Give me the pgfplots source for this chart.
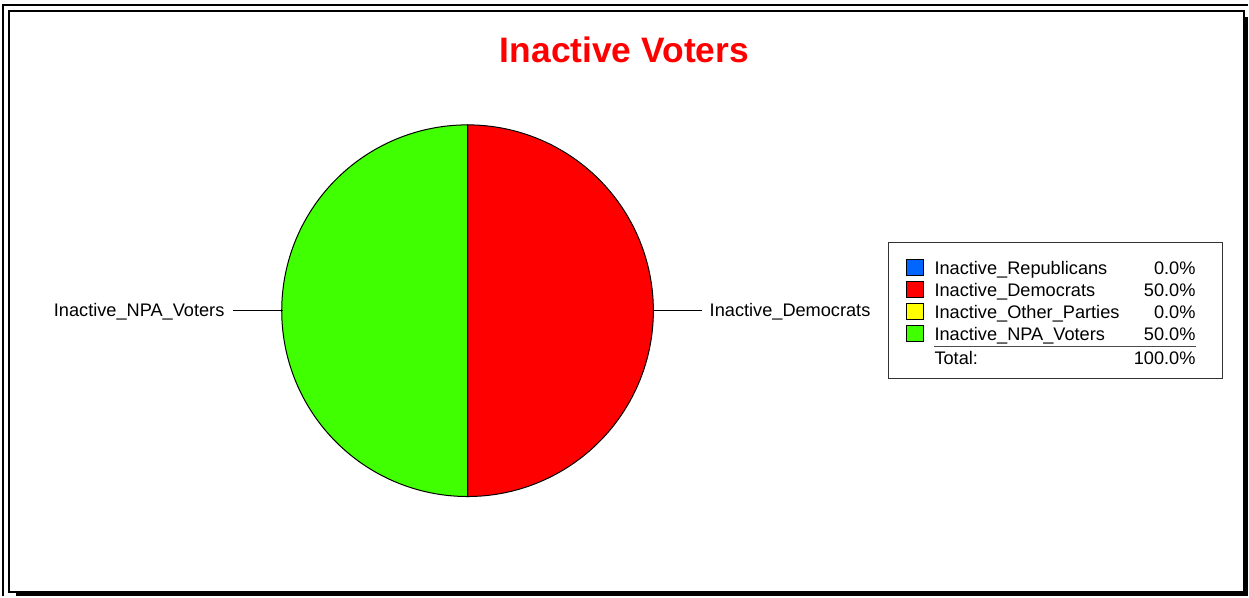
\documentclass[border=0pt]{standalone}
\usepackage{pgfplots}
\usepackage{pgfplotstable}
\pgfplotsset{compat=1.18}
\usepackage{fontspec}
\setmainfont{Liberation Sans}
\definecolor{repblue}{HTML}{0066FF}
\definecolor{demred}{HTML}{FF0000}
\definecolor{othyellow}{HTML}{FFFF00}
\definecolor{npagreen}{HTML}{40FF00}
\pgfplotstableread{
party value
Inactive_Republicans 0
Inactive_Democrats 50
Inactive_Other_Parties 0
Inactive_NPA_Voters 50
}\votes
\pgfplotstablegetelem{1}{value}\of\votes \pgfmathsetmacro{\dem}{\pgfplotsretval}
\pgfplotstablegetelem{3}{value}\of\votes \pgfmathsetmacro{\npa}{\pgfplotsretval}
\pgfmathsetmacro{\demA}{90-3.6*\dem}
\pgfmathsetmacro{\npaA}{\demA-3.6*\npa}
\newcommand{\lf}{\fontsize{9.1}{10}\selectfont}
\begin{document}
\begin{tikzpicture}
\begin{axis}[
  width=624.5pt, height=298.5pt, scale only axis,
  xmin=0, xmax=1249, ymin=0, ymax=597,
  hide axis, clip=false,
]
% keep the full canvas
\path (axis cs:0,0) rectangle (axis cs:1249,597);
% frame
\draw[line width=1.2pt] (axis cs:3,0) -- (axis cs:3,592) -- (axis cs:1249,592);
\draw[line width=1pt] (axis cs:9,4) rectangle (axis cs:1245,586);
\draw[line width=1.5pt] (axis cs:1247.5,580) -- (axis cs:1247.5,1.5) -- (axis cs:16,1.5);
% title
\node[anchor=base, text=red, font=\bfseries\fontsize{17.7}{20}\selectfont] at (axis cs:625,534) {Inactive Voters};
% pie slices (start at 12 o'clock, clockwise; 3.6 deg per percent)
\addplot[fill=demred, draw=black, line width=0.5pt, domain=\demA:90, samples=181]
  ({468+186*cos(x)},{286+186*sin(x)}) -- (axis cs:468,286) -- cycle;
\addplot[fill=npagreen, draw=black, line width=0.5pt, domain=\npaA:\demA, samples=181]
  ({468+186*cos(x)},{286+186*sin(x)}) -- (axis cs:468,286) -- cycle;
% slice labels
\draw[line width=0.5pt] (axis cs:654,286) -- (axis cs:703,286);
\draw[line width=0.5pt] (axis cs:233,286) -- (axis cs:283,286);
\node[anchor=base west, inner sep=0pt, font=\lf] at (axis cs:710,280) {Inactive\_Democrats};
\node[anchor=base east, inner sep=0pt, font=\lf] at (axis cs:225,280) {Inactive\_NPA\_Voters};
% legend
\draw[line width=0.5pt, draw=black!80] (axis cs:889,354) rectangle (axis cs:1224,218);
\draw[fill=repblue, draw=black, line width=0.5pt] (axis cs:907,321) rectangle (axis cs:924,337);
\draw[fill=demred, draw=black, line width=0.5pt] (axis cs:907,299) rectangle (axis cs:924,315);
\draw[fill=othyellow, draw=black, line width=0.5pt] (axis cs:907,277) rectangle (axis cs:924,293);
\draw[fill=npagreen, draw=black, line width=0.5pt] (axis cs:907,255) rectangle (axis cs:924,271);
\node[anchor=base west, inner sep=0pt, font=\lf] at (axis cs:935,322) {Inactive\_Republicans};
\node[anchor=base west, inner sep=0pt, font=\lf] at (axis cs:935,300) {Inactive\_Democrats};
\node[anchor=base west, inner sep=0pt, font=\lf] at (axis cs:935,278) {Inactive\_Other\_Parties};
\node[anchor=base west, inner sep=0pt, font=\lf] at (axis cs:935,256) {Inactive\_NPA\_Voters};
\node[anchor=base east, inner sep=0pt, font=\lf] at (axis cs:1197,322) {0.0\%};
\node[anchor=base east, inner sep=0pt, font=\lf] at (axis cs:1197,300) {50.0\%};
\node[anchor=base east, inner sep=0pt, font=\lf] at (axis cs:1197,278) {0.0\%};
\node[anchor=base east, inner sep=0pt, font=\lf] at (axis cs:1197,256) {50.0\%};
\draw[line width=0.5pt, draw=black!70] (axis cs:935,250) -- (axis cs:1197,250);
\node[anchor=base west, inner sep=0pt, font=\lf] at (axis cs:935,232) {Total:};
\node[anchor=base east, inner sep=0pt, font=\lf] at (axis cs:1197,232) {100.0\%};
\end{axis}
\end{tikzpicture}
\end{document}
